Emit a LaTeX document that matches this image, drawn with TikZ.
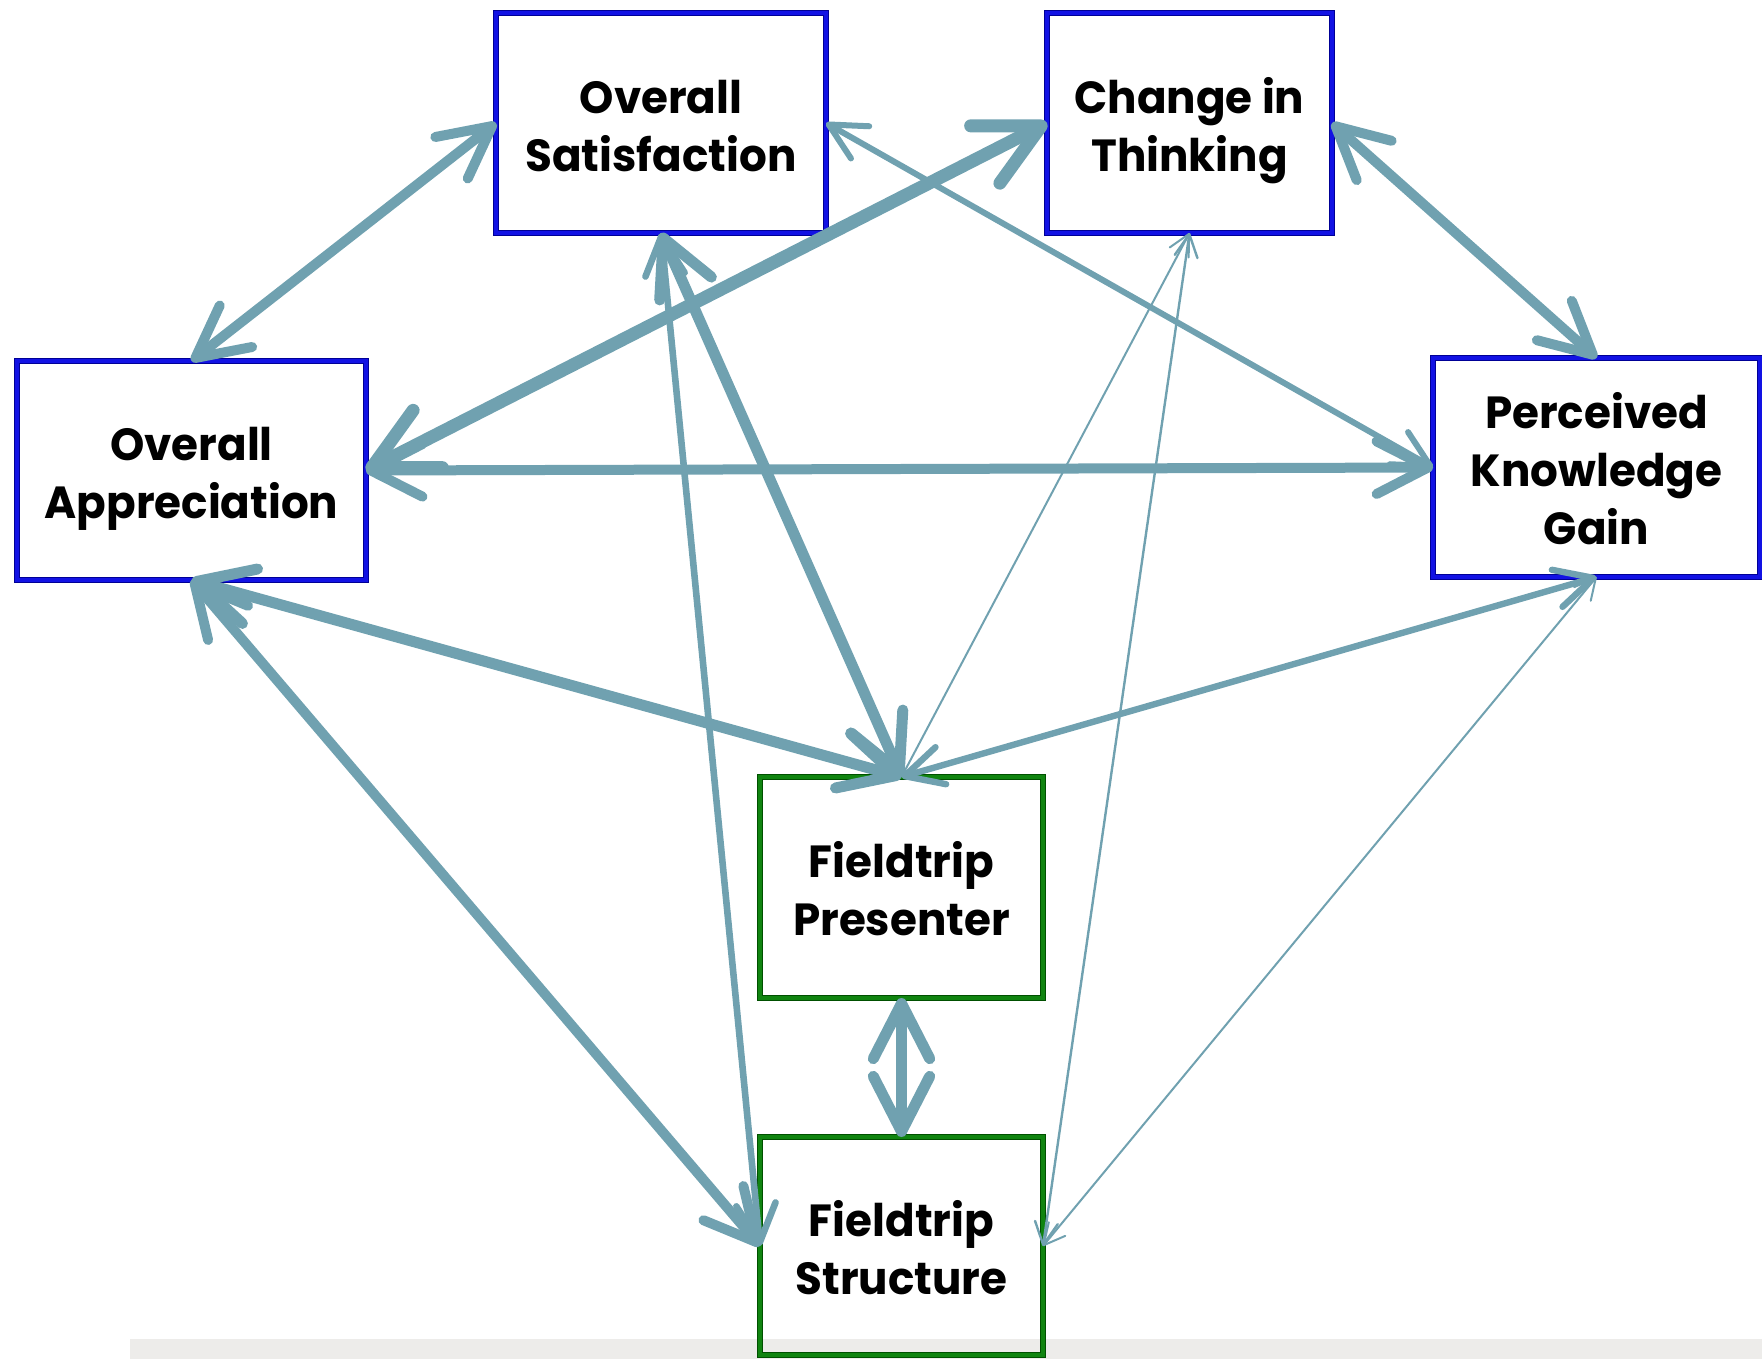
\documentclass[tikz,border=0pt]{standalone}
\usepackage{fontspec}
\setmainfont{Poppins}[FakeStretch=0.97]
\usetikzlibrary{arrows.meta}
\definecolor{arr}{RGB}{112,161,176}
\definecolor{bbl}{RGB}{18,18,228}
\definecolor{bbldark}{RGB}{0,0,150}
\definecolor{bgr}{RGB}{16,132,16}
\definecolor{bgrdark}{RGB}{0,80,0}
\definecolor{bandc}{RGB}{237,236,234}
\newcommand\TopStrut{\rule{0pt}{26.4pt}}
\newcommand\BotStrut{\rule[-7pt]{0pt}{7pt}}
\begin{document}
\begin{tikzpicture}[x=0.5pt,y=-0.5pt,
  box/.style={draw=#1, line width=0.8pt, double distance=1.8pt, outer sep=0pt, inner sep=0pt, align=center,
    font=\bfseries\fontsize{22.5}{29}\selectfont},
  bluebox/.style={box=bbldark, double=bbl},
  greenbox/.style={box=bgrdark, double=bgr},
  rel/.style={draw=arr, line width=#1, {Straight Barb[length=6.7pt 3.8, width=6.8pt 3.9, round]}-{Straight Barb[length=6.7pt 3.8, width=6.8pt 3.9, round]}}
]
\useasboundingbox (0,0) rectangle (1762,1359);
\fill[bandc] (130,1339) rectangle (1762,1359);

\node[bluebox, minimum width=165pt, minimum height=110pt] (OS) at (661,123) {\TopStrut Overall\\Satisfaction\BotStrut};
\node[bluebox, minimum width=142.5pt, minimum height=110pt] (CT) at (1189.5,123) {\TopStrut Change in\\Thinking\BotStrut};
\node[bluebox, minimum width=174.5pt, minimum height=109.5pt] (OA) at (191.5,470.5) {\TopStrut Overall\\Appreciation\BotStrut};
\node[bluebox, minimum width=163.5pt, minimum height=109.5pt] (PKG) at (1596.5,467.5) {\TopStrut Perceived\\Knowledge\\Gain\BotStrut};
\node[greenbox, minimum width=141.5pt, minimum height=110.5pt] (FP) at (901.5,887.5) {\TopStrut Fieldtrip\\Presenter\BotStrut};
\node[greenbox, minimum width=141.5pt, minimum height=109pt] (FS) at (901.5,1246) {\TopStrut Fieldtrip\\Structure\BotStrut};

\draw[rel=5pt] (OA.north) -- (OS.west);
\draw[rel=6.5pt] (OA.east) -- (CT.west);
\draw[rel=3pt] (OS.east) -- (PKG.west);
\draw[rel=5pt] (CT.east) -- (PKG.north);
\draw[rel=5pt] (OA.east) -- (PKG.west);
\draw[rel=5.5pt] (OS.south) -- (FP.north);
\draw[rel=3.3pt] (OS.south) -- (FS.west);
\draw[rel=1pt] (CT.south) -- (FP.north);
\draw[rel=1.2pt] (CT.south) -- (FS.east);
\draw[rel=3.2pt] (PKG.south) -- (FP.north);
\draw[rel=1pt] (PKG.south) -- (FS.east);
\draw[rel=5.5pt] (OA.south) -- (FP.north);
\draw[rel=5pt] (OA.south) -- (FS.west);
\draw[rel=5.5pt] (FP.south) -- (FS.north);
\end{tikzpicture}
\end{document}
